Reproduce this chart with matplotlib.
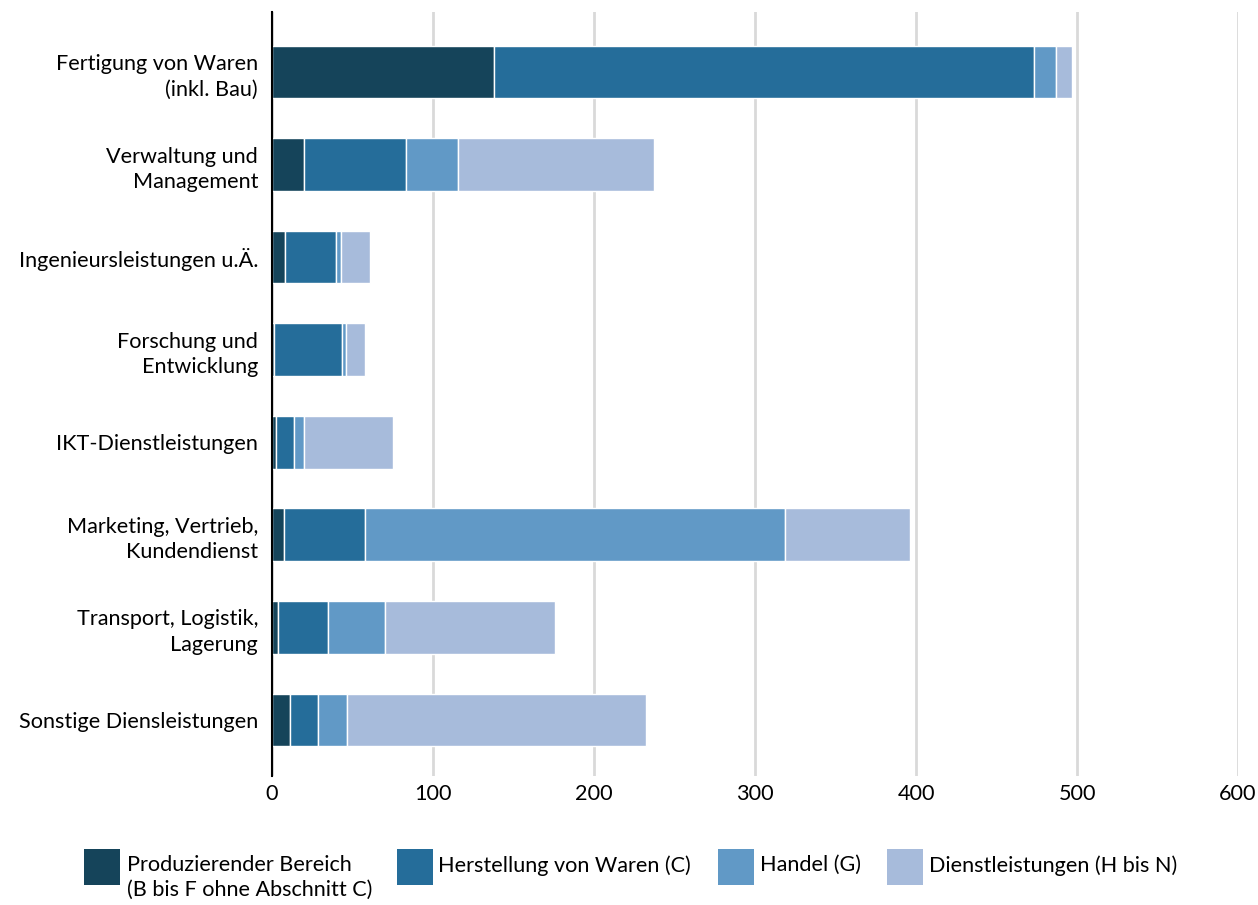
import matplotlib
matplotlib.use("Agg")
import matplotlib.pyplot as plt
from matplotlib.patches import Rectangle
import numpy as np

plt.rcParams['font.family'] = ['Lato', 'DejaVu Sans']

categories = ["Fertigung von Waren\n(inkl. Bau)", "Verwaltung und\nManagement",
              "Ingenieursleistungen u.Ä.", "Forschung und\nEntwicklung",
              "IKT-Dienstleistungen", "Marketing, Vertrieb,\nKundendienst",
              "Transport, Logistik,\nLagerung", "Sonstige Diensleistungen"]
series_names = ["Produzierender Bereich\n(B bis F ohne Abschnitt C)",
                "Herstellung von Waren (C)", "Handel (G)", "Dienstleistungen (H bis N)"]
produzierend = [138, 20, 8, 1, 2.5, 7.5, 4, 11]
herstellung = [335, 63, 32, 42.5, 11, 50, 31, 17.5]
handel = [14, 32.5, 3, 2.5, 6.5, 261, 35, 18]
dienst = [10, 121.5, 18, 12, 55, 78, 106, 186]
xticks = [0, 100, 200, 300, 400, 500, 600]

colors = ["#15445A", "#256D9A", "#6199C6", "#A7BBDB"]
FS = 15.6

fig = plt.figure(figsize=(12.58, 9.05), dpi=100)
ax = fig.add_axes([0.2162, 0.143, 0.768, 0.844])

y = np.arange(len(categories))
left = np.zeros(len(categories))
for vals, col in zip([produzierend, herstellung, handel, dienst], colors):
    ax.barh(y, vals, left=left, height=0.57, color=col, edgecolor="white", linewidth=1.0, zorder=3)
    left += np.array(vals)

ax.set_ylim(len(categories) - 1 + 0.6, -0.65)
ax.set_xlim(0, 600)
ax.set_xticks(xticks)
ax.set_xticklabels([str(t) for t in xticks], fontsize=FS)
ax.set_yticks(y)
ax.set_yticklabels(categories, fontsize=FS, ha="right", linespacing=1.35)
ax.tick_params(axis="both", length=0)
ax.tick_params(axis="x", pad=6)
ax.tick_params(axis="y", pad=10)
ax.grid(axis="x", color="#D9D9D9", linewidth=2, zorder=0)
for s in ["top", "right", "bottom"]:
    ax.spines[s].set_visible(False)
ax.spines["left"].set_color("black")
ax.spines["left"].set_linewidth(1.5)
ax.spines["left"].set_zorder(5)

W, H = 1258, 905
leg = [(84, 127), (397, 438), (718, 760), (887, 929)]
for (sx, tx), col, name in zip(leg, colors, series_names):
    fig.add_artist(Rectangle((sx / W, 1 - 885 / H), 36 / W, 36 / H,
                             transform=fig.transFigure, facecolor=col, edgecolor="none"))
    fig.text(tx / W, 1 - 855 / H, name, fontsize=FS, va="top", ha="left", linespacing=1.3)

fig.savefig("out.png", dpi=100)
